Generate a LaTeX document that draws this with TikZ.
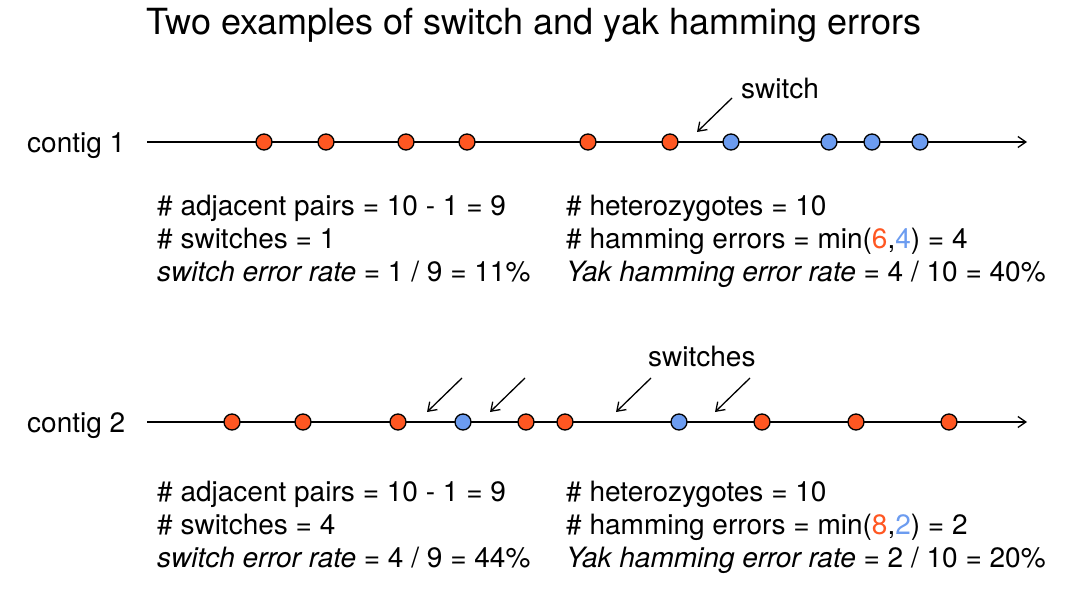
\documentclass[tikz,border=0pt]{standalone}
\usepackage{fontspec}
\setmainfont{TeX Gyre Heros}
\usetikzlibrary{arrows.meta}
\definecolor{hapred}{RGB}{255,87,34}
\definecolor{hapblue}{RGB}{108,156,240}
\begin{document}
\begin{tikzpicture}[x=1pt, y=-1pt, >={Straight Barb[length=8pt, width=11pt]},
    snp/.style={circle, draw=black, line width=1.3pt, minimum size=16pt, inner sep=0pt},
    txt/.style={anchor=base west, inner sep=0pt, font=\fontsize{28}{33}\selectfont},
    pointer/.style={->, line width=1.3pt}]
        \useasboundingbox (0,0) rectangle (1065,602);

        % Title
        \node[anchor=base, inner sep=0pt, font=\fontsize{36}{42}\selectfont] (title) at (534,35) {Two examples of switch and yak hamming errors};

        % Contig 1
        \node[txt] (c1) at (27,152) {contig 1};
        \coordinate (c1start) at (147,142);
        \coordinate (c1end) at (1027,142);
        \draw[->, line width=1.3pt] (c1start) -- (c1end);
        \foreach \x/\col [count=\i] in {264/hapred, 326/hapred, 406/hapred, 467/hapred, 588/hapred, 670/hapred, 731/hapblue, 829/hapblue, 872/hapblue, 920/hapblue} {
            \node[snp, fill=\col] (a\i) at (\x,142) {};
        }
        \node[txt] (sw1) at (741,98) {switch};
        \coordinate (p1) at (732,98);
        \coordinate (q1) at (697,132);
        \draw[pointer] (p1) -- (q1);

        % Contig 1 counts
        \node[txt] (l11) at (157,215) {\# adjacent pairs = 10 - 1 = 9};
        \node[txt] (l12) at (157,248) {\# switches = 1};
        \node[txt] (l13) at (157,281) {\textit{switch error rate} = 1 / 9 = 11\%};
        \node[txt] (r11) at (566,215) {\# heterozygotes = 10};
        \node[txt] (r12) at (566,248) {\# hamming errors = min({\color{hapred}6},{\color{hapblue}4}) = 4};
        \node[txt] (r13) at (566,281) {\textit{Yak hamming error rate} = 4 / 10 = 40\%};

        % Contig 2
        \node[txt] (c2) at (27,432) {contig 2};
        \coordinate (c2start) at (147,422);
        \coordinate (c2end) at (1027,422);
        \draw[->, line width=1.3pt] (c2start) -- (c2end);
        \foreach \x/\col [count=\i] in {232/hapred, 303/hapred, 398/hapred, 463/hapblue, 526/hapred, 565/hapred, 679/hapblue, 762/hapred, 856/hapred, 949/hapred} {
            \node[snp, fill=\col] (b\i) at (\x,422) {};
        }
        \node[txt] (sw2) at (648,366) {switches};
        \foreach \x [count=\i] in {462, 525, 651, 750} {
            \coordinate (p2\i) at (\x,378);
            \coordinate (q2\i) at (\x-35,412);
            \draw[pointer] (p2\i) -- (q2\i);
        }

        % Contig 2 counts
        \node[txt] (l21) at (157,501) {\# adjacent pairs = 10 - 1 = 9};
        \node[txt] (l22) at (157,534) {\# switches = 4};
        \node[txt] (l23) at (157,567) {\textit{switch error rate} = 4 / 9 = 44\%};
        \node[txt] (r21) at (566,501) {\# heterozygotes = 10};
        \node[txt] (r22) at (566,534) {\# hamming errors = min({\color{hapred}8},{\color{hapblue}2}) = 2};
        \node[txt] (r23) at (566,567) {\textit{Yak hamming error rate} = 2 / 10 = 20\%};
    \end{tikzpicture}
\end{document}
